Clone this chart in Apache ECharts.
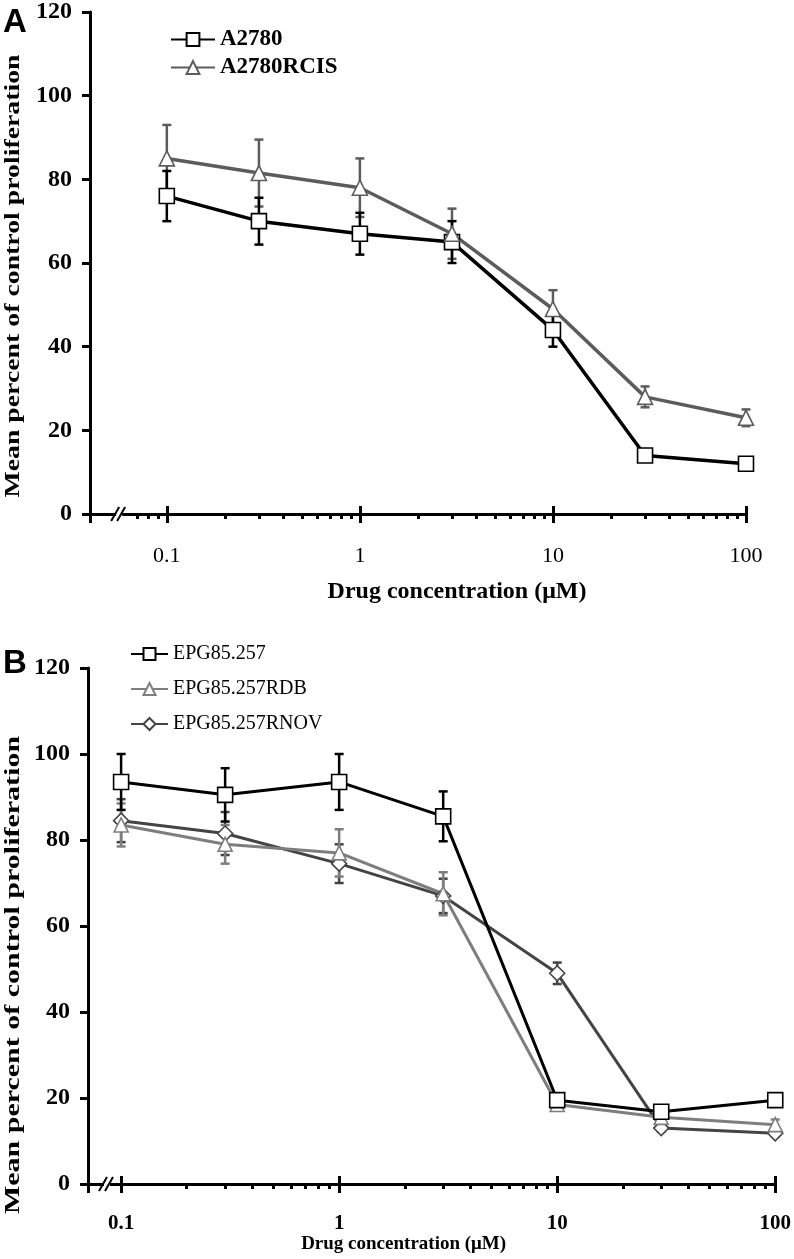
<!DOCTYPE html>
<html>
<head>
<meta charset="utf-8">
<script src="https://cdn.jsdelivr.net/npm/echarts@6/dist/echarts.min.js"></script>
<style>
html,body{margin:0;padding:0;background:#fff;}
#main{width:794px;height:1259px;}
</style>
</head>
<body>
<div id="main"></div>
<script>
// ---------- data ----------
const concentrations = [0.1, 0.3, 1, 3, 10, 30, 100];

// Panel A
const a2780      = [76, 70, 67, 65, 44, 14, 12];
const a2780Err   = [6, 5.6, 5, 5, 4, 1, 1];
const a2780rcis    = [85, 81.5, 78, 67, 49, 28, 23];
const a2780rcisErr = [8, 8, 7, 6, 4.5, 2.5, 2];

// Panel B
const epg        = [93.5, 90.5, 93.5, 85.5, 19.5, 16.8, 19.5];
const epgErr     = [6.5, 6.2, 6.5, 5.8, 1, 0.6, 0.6];
const epgRdb     = [83.5, 79, 77, 67.5, 18.5, 15.5, 13.8];
const epgRdbErr  = [5, 4.5, 5.5, 5, 1, 0.8, 1.2];
const epgRnov    = [84.5, 81.5, 74.5, 67, 49, 13, 11.8];
const epgRnovErr = [5, 5, 4.5, 4, 2.5, 0.8, 0.8];

// axis
const xTickValues = [0.1, 1, 10, 100];
const xTickLabels = ['0.1', '1', '10', '100'];
const minorTicksA = [0.07,0.08,0.09,0.2,0.3,0.4,0.5,0.6,0.7,0.8,0.9,2,3,4,5,6,7,8,9,20,30,40,50,60,70,80,90];
const minorTicksB = [0.2,0.3,0.4,0.5,0.6,0.7,0.8,0.9,2,3,4,5,6,7,8,9,20,30,40,50,60,70,80,90];
const axisStartA = 0.04, axisStartB = 0.0705, axisEnd = 100;
const breakA = 0.058, breakB = 0.088;
const yMin = 0, yMax = 120, yStep = 20;

const xTitle = 'Drug concentration (\u03bcM)';
const yTitle = 'Mean percent of control proliferation';

// ---------- helpers ----------
const L = Math.log10;
const SERIF = '"Liberation Serif", "Times New Roman", serif';
function pts(vals){ return concentrations.map((c,i)=>[L(c), vals[i]]); }
function errPts(vals, errs){ return concentrations.map((c,i)=>[L(c), vals[i]-errs[i], vals[i]+errs[i]]); }
function fmtX(v){
  const idx = xTickValues.findIndex(t => Math.abs(L(t) - v) < 1e-6);
  return idx >= 0 ? xTickLabels[idx] : '';
}
function errRender(color){
  return function(params, api){
    const x = api.value(0);
    const lo = api.coord([x, api.value(1)]);
    const hi = api.coord([x, api.value(2)]);
    const w = 4.5;
    const st = {stroke: color, lineWidth: 2.5};
    return {type:'group', children:[
      {type:'line', shape:{x1:lo[0],y1:lo[1],x2:hi[0],y2:hi[1]}, style:st},
      {type:'line', shape:{x1:lo[0]-w,y1:lo[1],x2:lo[0]+w,y2:lo[1]}, style:st},
      {type:'line', shape:{x1:hi[0]-w,y1:hi[1],x2:hi[0]+w,y2:hi[1]}, style:st}
    ]};
  };
}
function breakRender(params, api){
  const p = api.coord([api.value(0), api.value(1)]);
  const st = {stroke:'#000', lineWidth:2};
  return {type:'group', children:[
    {type:'rect', shape:{x:p[0]-5, y:p[1]-3, width:6, height:6}, style:{fill:'#fff'}},
    {type:'line', shape:{x1:p[0]-10,y1:p[1]+7,x2:p[0]-2,y2:p[1]-7}, style:st},
    {type:'line', shape:{x1:p[0]-4,y1:p[1]+7,x2:p[0]+4,y2:p[1]-7}, style:st}
  ]};
}

function xAxes(gridIndex, start, minor, labelStyle, nameGap, namePad, nameSize){
  const mn = L(start), mx = L(axisEnd);
  const major = [mn].concat(xTickValues.map(L));
  return [
    { type:'value', gridIndex, min:mn, max:mx, position:'bottom',
      axisLine:{show:true, onZero:false, lineStyle:{color:'#000', width:3}},
      axisTick:{show:true, customValues:major, length:9, lineStyle:{color:'#000', width:3}},
      axisLabel:Object.assign({customValues:xTickValues.map(L), formatter:fmtX, color:'#000', fontFamily:SERIF}, labelStyle),
      splitLine:{show:false},
      name:xTitle, nameLocation:'middle', nameGap:nameGap,
      nameTextStyle:{fontFamily:SERIF, fontWeight:'bold', fontSize:nameSize, color:'#000', padding:namePad}
    },
    { type:'value', gridIndex, min:mn, max:mx, position:'bottom',
      axisLine:{show:false, onZero:false},
      axisTick:{show:true, inside:true, customValues:major, length:8, lineStyle:{color:'#000', width:3}},
      axisLabel:{show:false}, splitLine:{show:false}
    },
    { type:'value', gridIndex, min:mn, max:mx, position:'bottom',
      axisLine:{show:false, onZero:false},
      axisTick:{show:true, customValues:minor.map(L), length:5, lineStyle:{color:'#000', width:3}},
      axisLabel:{show:false}, splitLine:{show:false}
    }
  ];
}
function yAxis(gridIndex){
  return { type:'value', gridIndex, min:yMin, max:yMax, interval:yStep, position:'left',
    axisLine:{show:true, onZero:false, lineStyle:{color:'#000', width:3}},
    axisTick:{show:true, length:8, lineStyle:{color:'#000', width:3}},
    axisLabel:{color:'#000', fontFamily:SERIF, fontWeight:'bold', fontSize:24, margin:18},
    splitLine:{show:false}
  };
}
function lineSeries(name, vals, color, symbol, size, xi, yi, lw){
  return { name, type:'line', data:pts(vals), xAxisIndex:xi, yAxisIndex:yi,
    symbol, symbolSize:size, showSymbol:true, z:3,
    lineStyle:{color, width:lw},
    itemStyle:{color:'#fff', borderColor:color, borderWidth:1.6},
    emphasis:{disabled:true}
  };
}
function errSeries(vals, errs, color, xi, yi){
  return { type:'custom', xAxisIndex:xi, yAxisIndex:yi, data:errPts(vals, errs),
    encode:{x:0, y:[1,2]}, renderItem:errRender(color), z:2, silent:true };
}

const cBlack = '#000000', cGrayA = '#5c5c5c', cRdb = '#7e7e7e', cRnov = '#444444';

const option = {
  animation:false,
  backgroundColor:'#fff',
  grid:[
    {left:90, top:9, width:656, height:505, containLabel:false},
    {left:88, top:668, width:689, height:516, containLabel:false}
  ],
  xAxis: xAxes(0, axisStartA, minorTicksA, {fontSize:22, fontWeight:'normal', margin:31}, 66, [0,0,0,78], 24)
    .concat(xAxes(1, axisStartB, minorTicksB, {fontSize:21, fontWeight:'bold', margin:29}, 50, [0,56,0,0], 19)),
  yAxis:[yAxis(0), yAxis(1)],
  legend:[
    { data:['A2780','A2780RCIS'], orient:'vertical', left:170, top:28, padding:0,
      itemWidth:44, itemHeight:16, itemGap:5,
      textStyle:{fontFamily:SERIF, fontWeight:'bold', fontSize:23, color:'#000'} },
    { data:['EPG85.257','EPG85.257RDB','EPG85.257RNOV'], orient:'vertical', left:130, top:644, padding:0,
      itemWidth:37, itemHeight:15, itemGap:15,
      textStyle:{fontFamily:SERIF, fontWeight:'normal', fontSize:20, color:'#000'} }
  ],
  graphic:[
    {type:'text', left:3, top:6, style:{text:'A', font:'bold 33px "Liberation Sans", Arial, sans-serif', fill:'#000'}},
    {type:'text', left:3, top:647, style:{text:'B', font:'bold 33px "Liberation Sans", Arial, sans-serif', fill:'#000'}},
    {type:'text', x:14, y:276, rotation:Math.PI/2, scaleX:1.39,
      style:{text:yTitle, font:'bold 20px ' + SERIF, fill:'#000', align:'center', verticalAlign:'middle'}},
    {type:'text', x:14, y:975, rotation:Math.PI/2, scaleX:1.5,
      style:{text:yTitle, font:'bold 20px ' + SERIF, fill:'#000', align:'center', verticalAlign:'middle'}}
  ],
  series:[
    errSeries(a2780rcis, a2780rcisErr, cGrayA, 0, 0),
    errSeries(a2780, a2780Err, cBlack, 0, 0),
    lineSeries('A2780', a2780, cBlack, 'rect', 15, 0, 0, 3.5),
    lineSeries('A2780RCIS', a2780rcis, cGrayA, 'triangle', 15, 0, 0, 3.5),

    errSeries(epgRnov, epgRnovErr, cRnov, 3, 1),
    errSeries(epgRdb, epgRdbErr, cRdb, 3, 1),
    errSeries(epg, epgErr, cBlack, 3, 1),
    lineSeries('EPG85.257RNOV', epgRnov, cRnov, 'diamond', 15, 3, 1, 3),
    lineSeries('EPG85.257RDB', epgRdb, cRdb, 'triangle', 14, 3, 1, 3),
    lineSeries('EPG85.257', epg, cBlack, 'rect', 15, 3, 1, 3),

    { type:'custom', xAxisIndex:0, yAxisIndex:0, data:[[L(breakA), 0]], renderItem:breakRender, z:5, silent:true },
    { type:'custom', xAxisIndex:3, yAxisIndex:1, data:[[L(breakB), 0]], renderItem:breakRender, z:5, silent:true }
  ]
};

const chart = echarts.init(document.getElementById('main'), null, {renderer:'canvas'});
chart.setOption(option);
</script>
</body>
</html>
